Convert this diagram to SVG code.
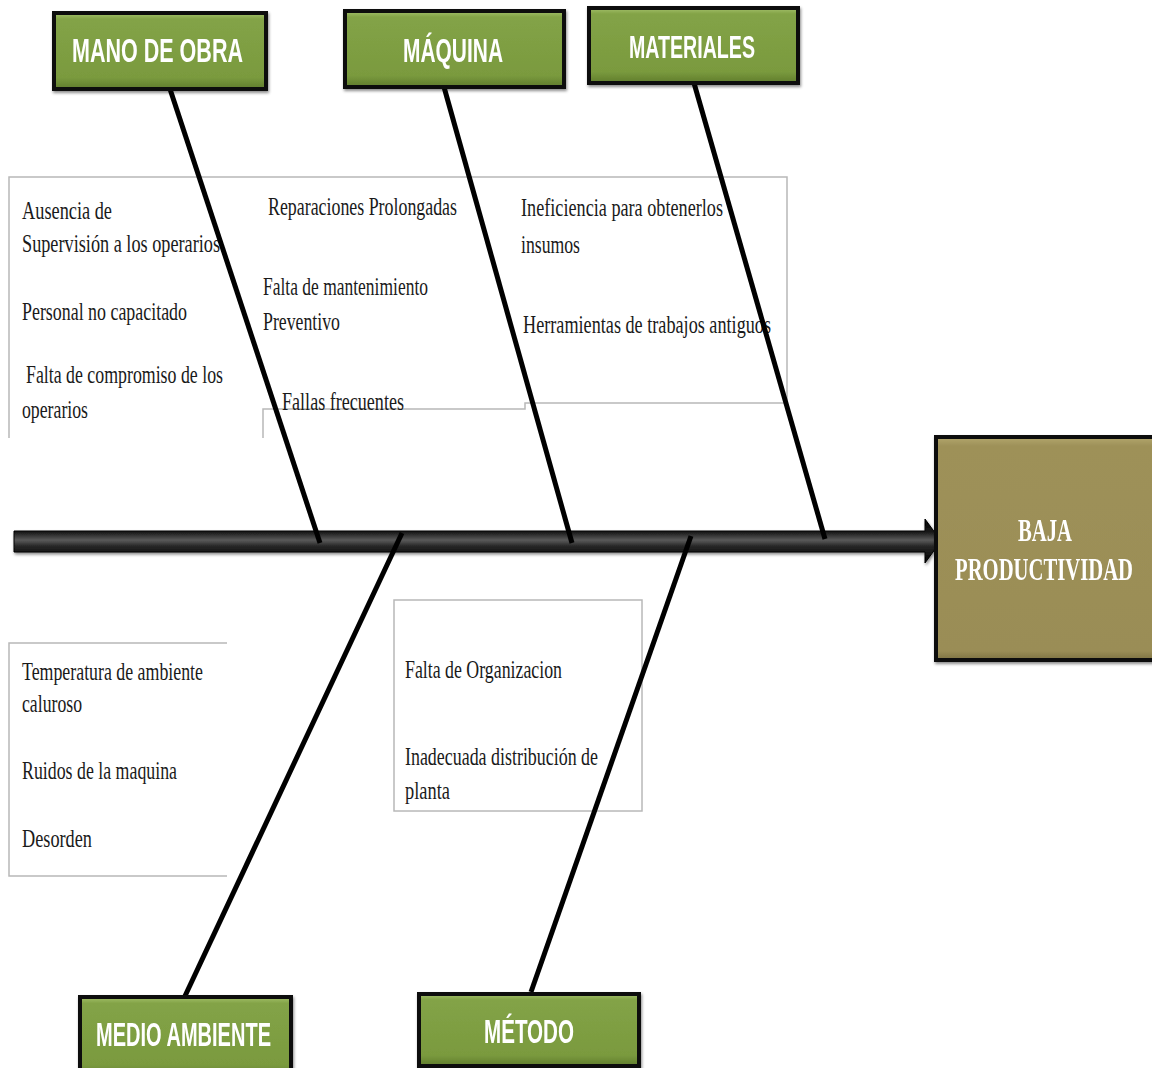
<svg xmlns="http://www.w3.org/2000/svg" width="1152" height="1068" viewBox="0 0 1152 1068">
  <defs>
    <linearGradient id="greenFill" x1="0" y1="0" x2="0" y2="1">
      <stop offset="0" stop-color="#a3c06a"/>
      <stop offset="0.08" stop-color="#83a347"/>
      <stop offset="0.85" stop-color="#7a9a3e"/>
      <stop offset="1" stop-color="#5f7c2c"/>
    </linearGradient>
    <linearGradient id="oliveFill" x1="0" y1="0" x2="0" y2="1">
      <stop offset="0" stop-color="#b3a76d"/>
      <stop offset="0.04" stop-color="#9e9159"/>
      <stop offset="0.96" stop-color="#9a8d56"/>
      <stop offset="1" stop-color="#7d7243"/>
    </linearGradient>
    <linearGradient id="spineFill" x1="0" y1="0" x2="0" y2="1">
      <stop offset="0" stop-color="#000"/>
      <stop offset="0.3" stop-color="#1a1a1a"/>
      <stop offset="0.48" stop-color="#5a5a5a"/>
      <stop offset="0.62" stop-color="#262626"/>
      <stop offset="1" stop-color="#000"/>
    </linearGradient>
    <filter id="shadow" x="-5%" y="-5%" width="115%" height="120%">
      <feDropShadow dx="1" dy="2" stdDeviation="1.5" flood-color="#000" flood-opacity="0.45"/>
    </filter>
  </defs>
  <style>
    .cat rect.frame { fill: url(#greenFill); stroke: #0a0a0a; stroke-width: 4; }
    .cat text { font-family: "Liberation Sans", Arial, sans-serif; font-weight: bold; fill: #ffffff; }
    .cause { font-family: "Liberation Serif", "Times New Roman", serif; font-size: 26px; fill: #1a1a1a; }
    .panel { fill: none; stroke: #b8b8b8; stroke-width: 1.5; }
    .bone { stroke: #000; stroke-width: 5; stroke-linecap: butt; fill: none; }
    .effect { font-family: "Liberation Serif", "Times New Roman", serif; font-size: 31px; font-weight: bold; fill: #ffffff; }
  </style>

  <rect width="1152" height="1068" fill="#ffffff"/>

  <!-- cause panels -->
  <g id="panels">
    <path class="panel" d="M9,438 V177 H787 V403 H525 V409 H263 V438"/>
    <path class="panel" d="M227,643 H9 V876 H227"/>
    <rect class="panel" x="394" y="600" width="248" height="211"/>
  </g>

  <!-- cause texts -->
  <g id="causes-mano-de-obra">
    <text class="cause" x="22" y="219" textLength="90" lengthAdjust="spacingAndGlyphs">Ausencia de</text>
    <text class="cause" x="22" y="252" textLength="198" lengthAdjust="spacingAndGlyphs">Supervisión  a los operarios</text>
    <text class="cause" x="22" y="320" textLength="165" lengthAdjust="spacingAndGlyphs">Personal no capacitado</text>
    <text class="cause" x="26" y="383" textLength="197" lengthAdjust="spacingAndGlyphs">Falta de compromiso de los</text>
    <text class="cause" x="22" y="418" textLength="66" lengthAdjust="spacingAndGlyphs">operarios</text>
  </g>
  <g id="causes-maquina">
    <text class="cause" x="268" y="215" textLength="189" lengthAdjust="spacingAndGlyphs">Reparaciones Prolongadas</text>
    <text class="cause" x="263" y="295" textLength="165" lengthAdjust="spacingAndGlyphs">Falta de mantenimiento</text>
    <text class="cause" x="263" y="330" textLength="77" lengthAdjust="spacingAndGlyphs">Preventivo</text>
    <text class="cause" x="282" y="410" textLength="122" lengthAdjust="spacingAndGlyphs">Fallas  frecuentes</text>
  </g>
  <g id="causes-materiales">
    <text class="cause" x="521" y="216" textLength="202" lengthAdjust="spacingAndGlyphs">Ineficiencia para obtenerlos</text>
    <text class="cause" x="521" y="253" textLength="59" lengthAdjust="spacingAndGlyphs">insumos</text>
    <text class="cause" x="523" y="333" textLength="248" lengthAdjust="spacingAndGlyphs">Herramientas  de trabajos antiguos</text>
  </g>
  <g id="causes-medio-ambiente">
    <text class="cause" x="22" y="680" textLength="181" lengthAdjust="spacingAndGlyphs">Temperatura de ambiente</text>
    <text class="cause" x="22" y="712" textLength="60" lengthAdjust="spacingAndGlyphs">caluroso</text>
    <text class="cause" x="22" y="779" textLength="155" lengthAdjust="spacingAndGlyphs">Ruidos de la maquina</text>
    <text class="cause" x="22" y="847" textLength="70" lengthAdjust="spacingAndGlyphs">Desorden</text>
  </g>
  <g id="causes-metodo">
    <text class="cause" x="405" y="678" textLength="157" lengthAdjust="spacingAndGlyphs">Falta de Organizacion</text>
    <text class="cause" x="405" y="765" textLength="193" lengthAdjust="spacingAndGlyphs">Inadecuada distribución de</text>
    <text class="cause" x="405" y="799" textLength="45" lengthAdjust="spacingAndGlyphs">planta</text>
  </g>

  <!-- spine and bones -->
  <g id="connectors">
    <path id="spine" d="M14,531 H925 V519 L941,541 L925,563 V552 H14 Z" fill="url(#spineFill)" stroke="#000" stroke-width="1" filter="url(#shadow)"/>
    <line class="bone" x1="170" y1="89" x2="320" y2="543"/>
    <line class="bone" x1="444" y1="87" x2="572" y2="543"/>
    <line class="bone" x1="694" y1="83" x2="825" y2="539"/>
    <line class="bone" x1="185" y1="996" x2="402" y2="533"/>
    <line class="bone" x1="531" y1="992" x2="691" y2="536"/>
  </g>

  <!-- category headers -->
  <g id="mano-de-obra" class="cat" filter="url(#shadow)">
    <rect class="frame" x="54" y="13" width="212" height="76"/>
    <text x="72" y="62" font-size="34" textLength="171" lengthAdjust="spacingAndGlyphs">MANO DE OBRA</text>
  </g>
  <g id="maquina" class="cat" filter="url(#shadow)">
    <rect class="frame" x="345" y="11" width="219" height="76"/>
    <text x="403" y="62" font-size="34" textLength="100" lengthAdjust="spacingAndGlyphs">MÁQUINA</text>
  </g>
  <g id="materiales" class="cat" filter="url(#shadow)">
    <rect class="frame" x="589" y="8" width="209" height="75"/>
    <text x="629" y="58" font-size="31" textLength="126" lengthAdjust="spacingAndGlyphs">MATERIALES</text>
  </g>
  <g id="medio-ambiente" class="cat" filter="url(#shadow)">
    <rect class="frame" x="80" y="997" width="211" height="80"/>
    <text x="96" y="1046" font-size="33" textLength="175" lengthAdjust="spacingAndGlyphs">MEDIO AMBIENTE</text>
  </g>
  <g id="metodo" class="cat" filter="url(#shadow)">
    <rect class="frame" x="419" y="994" width="220" height="72"/>
    <text x="484" y="1043" font-size="33" textLength="90" lengthAdjust="spacingAndGlyphs">MÉTODO</text>
  </g>

  <!-- effect -->
  <g id="baja-productividad" filter="url(#shadow)">
    <rect x="936" y="437" width="222" height="223" fill="url(#oliveFill)" stroke="#0a0a0a" stroke-width="4"/>
    <text class="effect" x="1045" y="541" text-anchor="middle" textLength="54" lengthAdjust="spacingAndGlyphs">BAJA</text>
    <text class="effect" x="1044" y="580" text-anchor="middle" textLength="178" lengthAdjust="spacingAndGlyphs">PRODUCTIVIDAD</text>
  </g>
</svg>
